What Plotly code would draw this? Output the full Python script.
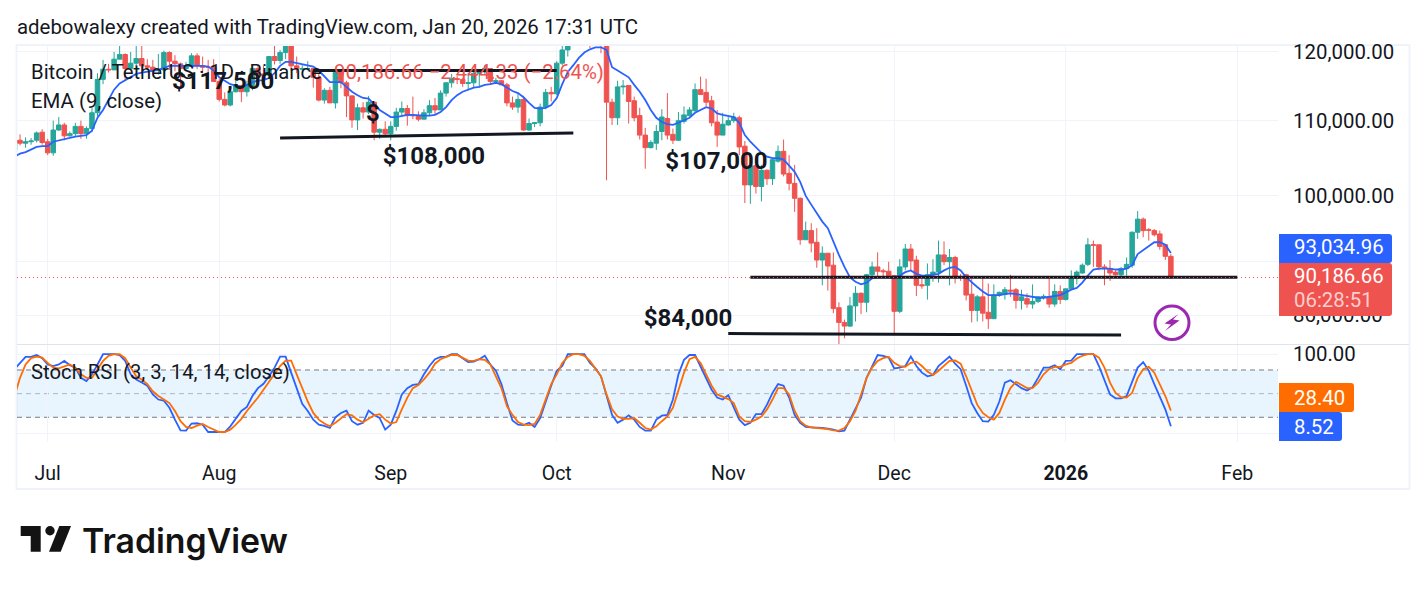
import pandas as pd
import plotly.graph_objects as go

WIDTH, HEIGHT = 1427, 591

# Daily BTC/USDT candles, prices in thousands of USD, one row per month
dates = pd.date_range("2025-06-25", "2026-01-20", freq="D").strftime("%Y-%m-%d").tolist()

opens = [
    106.0,107.3,106.9,107.1,107.3,108.4,
    107.1,105.6,108.7,109.4,107.9,108.2,109.2,108.2,108.9,111.1,115.9,117.4,117.3,118.9,119.6,117.5,118.3,119.0,117.9,117.7,117.2,117.3,119.9,118.6,118.2,117.5,117.8,119.4,117.9,117.7,117.7,
    115.6,113.0,112.2,114.1,115.0,114.1,115.0,117.5,116.7,116.5,119.3,118.7,119.9,123.3,117.9,117.4,117.5,117.5,116.2,112.9,114.3,112.5,116.9,115.4,113.5,110.1,111.8,111.2,112.6,108.4,108.8,
    108.2,109.2,111.2,111.7,110.7,110.7,110.2,111.1,112.1,111.5,113.9,115.4,116.0,115.9,115.3,115.4,116.8,117.0,117.5,115.6,115.7,115.1,112.5,111.9,113.0,108.7,109.6,109.7,111.9,114.0,
    113.8,118.3,120.3,122.2,122.4,123.5,124.7,121.4,123.3,121.7,112.6,110.4,114.8,115.0,112.8,110.7,108.0,106.3,106.9,108.5,110.3,108.1,107.3,109.9,110.7,111.4,114.4,114.0,112.8,109.8,108.0,
    109.4,110.0,110.4,106.5,101.4,103.9,101.2,103.3,102.2,104.5,105.8,102.9,101.6,99.7,94.6,95.7,94.3,92.2,93.0,91.6,86.8,85.2,84.8,87.0,88.4,87.4,90.5,91.4,90.95,90.9,
    90.4,86.4,91.4,93.5,92.2,89.35,89.3,90.5,90.8,92.8,92.0,92.5,90.25,90.5,88.3,86.5,88.0,86.3,85.6,88.2,88.3,88.75,88.8,87.6,87.8,87.2,87.5,88.0,88.0,87.2,88.6,
    87.7,88.9,90.1,90.7,91.7,94.0,94.0,91.4,91.2,90.8,90.5,91.2,91.6,95.5,97.1,95.8,95.7,95.3,94.0,92.63099,
]
highs = [
    108.0,108.1,107.7,107.6,108.5,108.8,
    107.5,110.0,110.5,109.7,108.5,109.7,110.0,109.2,111.8,116.8,118.8,118.2,120.0,123.2,119.8,120.0,120.9,120.9,118.9,118.8,119.7,120.2,120.1,119.5,118.4,118.5,119.8,119.8,119.3,118.8,118.9,
    116.0,114.0,114.8,115.7,115.1,115.7,117.6,117.9,117.9,119.3,122.3,120.3,124.0,124.5,119.3,118.0,118.6,117.6,116.8,114.6,114.8,117.4,117.4,115.7,113.6,112.4,112.6,113.5,112.6,108.9,109.9,
    109.9,111.8,112.7,112.2,113.4,111.3,111.6,112.9,113.2,114.3,115.4,116.7,116.4,116.1,116.9,117.0,117.3,118.0,117.5,116.1,115.8,115.4,113.4,114.0,113.5,110.3,109.8,112.4,114.5,114.8,
    118.6,121.0,123.9,122.8,125.7,126.2,125.1,124.2,123.7,122.5,113.1,115.7,115.8,115.0,113.4,111.8,109.0,107.3,109.4,111.6,113.9,108.9,111.2,112.0,111.9,115.3,116.3,116.0,113.5,111.5,111.1,
    110.5,111.1,110.7,107.2,104.5,104.1,104.0,103.4,104.8,106.6,107.4,105.3,104.0,99.8,96.8,96.6,96.0,93.8,93.0,93.1,87.4,85.5,88.0,89.2,88.5,90.6,92.0,93.1,91.2,92.0,
    90.4,92.3,94.1,94.1,92.7,90.3,91.8,92.3,94.5,94.4,93.5,92.7,90.6,90.6,90.0,88.2,90.3,89.5,89.4,88.6,89.1,90.5,89.0,88.8,88.4,89.4,88.0,88.3,90.3,89.4,89.3,
    88.9,91.0,91.0,91.8,94.8,94.5,94.0,91.7,92.2,91.0,91.4,92.5,95.6,98.1,97.3,96.0,95.9,95.7,94.0,92.9,
]
lows = [
    105.7,106.6,106.3,106.7,107.0,106.7,
    105.3,105.2,108.6,107.3,107.8,107.8,107.5,107.5,108.4,110.6,115.2,116.9,117.3,118.9,115.7,117.4,117.8,116.8,117.3,116.5,116.6,116.1,117.3,117.1,114.7,117.2,117.8,117.4,116.8,115.7,115.5,
    112.7,112.0,112.0,114.0,112.6,113.4,114.3,116.3,116.3,116.5,118.1,118.2,118.9,117.2,116.8,117.2,117.2,114.7,112.7,112.4,112.6,111.7,114.6,110.5,109.0,108.7,110.3,110.9,107.3,107.5,108.0,
    107.3,108.6,110.6,109.3,110.2,109.9,110.2,110.6,110.8,111.5,113.4,114.7,115.2,114.8,114.4,114.7,114.7,116.7,115.1,115.4,115.1,112.0,111.5,111.1,108.6,108.6,109.1,109.2,111.6,112.7,
    113.6,118.0,119.3,121.6,122.0,123.0,120.6,121.0,119.8,102.0,109.4,109.4,113.7,109.6,109.9,107.4,103.5,106.2,106.0,107.3,107.4,106.8,107.2,109.6,110.6,111.2,113.7,112.0,109.2,106.4,108.0,
    109.3,109.7,105.3,99.1,99.0,100.3,99.3,101.4,101.4,104.3,102.5,100.7,98.0,94.0,94.6,93.1,91.3,89.3,88.7,86.2,80.6,83.5,84.7,85.3,86.1,86.3,90.1,90.2,90.2,90.3,
    84.0,86.2,91.0,90.9,88.1,88.9,87.7,89.7,89.6,91.6,89.3,89.5,89.8,87.6,85.2,85.3,85.3,84.5,85.6,88.0,87.7,88.0,86.7,86.6,86.8,86.7,87.3,87.7,86.8,86.9,87.2,
    87.6,88.8,89.4,90.6,91.5,91.4,91.0,89.3,89.8,90.4,90.3,90.4,91.3,94.7,94.9,94.5,95.0,93.4,92.2,90.0,
]
closes = [
    107.3,106.9,107.1,107.2,108.3,107.0,
    105.6,108.7,109.4,107.9,108.2,109.2,108.2,108.9,111.1,115.9,117.4,117.3,118.9,119.6,117.5,118.3,119.0,117.9,117.7,117.2,117.3,119.9,118.6,118.2,117.5,117.8,119.4,117.9,117.7,117.7,115.6,
    113.0,112.2,114.1,115.0,114.1,115.0,117.5,116.7,116.5,119.3,118.7,119.9,123.3,117.9,117.4,117.5,117.5,116.2,112.9,114.3,112.5,116.9,115.4,113.5,110.1,111.8,111.2,112.6,108.4,108.8,108.2,
    109.2,111.2,111.7,110.7,110.7,110.2,111.1,112.1,111.5,113.9,115.4,116.0,115.9,115.3,115.4,116.8,117.0,117.5,115.6,115.7,115.1,112.5,111.9,113.0,108.7,109.6,109.7,111.9,114.0,113.8,
    118.3,120.3,122.2,122.4,123.5,124.7,121.4,123.3,121.7,112.6,110.4,114.8,114.9,112.7,110.4,108.0,106.3,107.0,108.5,110.5,108.0,107.3,110.0,110.8,111.5,114.4,113.7,112.6,109.7,108.0,109.5,
    110.0,110.5,106.4,101.4,103.9,101.2,103.3,102.2,104.7,105.8,102.8,101.6,99.7,94.6,95.7,94.2,92.2,93.0,91.5,86.7,85.2,84.8,87.0,88.4,87.4,90.5,91.4,90.9,90.85,90.4,
    86.4,91.4,93.5,92.1,89.3,89.25,90.5,90.8,92.8,92.0,92.5,90.2,90.2,88.2,86.5,88.0,86.2,85.6,88.2,88.5,88.8,88.65,87.6,88.0,87.2,87.5,88.0,88.05,87.2,88.6,87.7,
    88.9,90.2,90.8,91.6,94.0,93.95,91.4,91.2,90.7,90.5,91.2,91.7,95.5,97.1,95.7,95.75,95.2,93.8,92.63099,90.18666,
]
ema9 = [
    105.1,105.5,105.7,106.0,106.4,106.5,
    106.5,107.1,107.3,107.5,107.7,107.8,107.9,108.0,108.6,110.4,111.5,112.9,114.4,115.3,115.8,116.2,116.7,116.9,117.0,117.2,117.3,117.6,117.9,117.9,117.9,117.9,118.0,118.0,117.9,117.8,117.2,
    116.2,115.7,115.2,115.0,114.8,115.1,115.5,115.7,115.8,116.1,116.8,117.9,118.5,118.5,118.3,118.2,118.0,117.8,117.2,116.4,115.5,115.5,115.5,114.8,114.1,113.6,113.2,113.1,112.3,111.5,111.0,
    110.5,110.5,110.7,110.8,110.8,110.7,110.7,110.7,110.8,111.2,111.9,112.9,113.6,114.1,114.4,114.7,114.8,115.1,115.2,115.4,115.2,114.7,114.2,113.9,113.3,112.5,111.8,111.7,111.8,112.2,
    113.2,115.2,117.0,118.0,119.1,119.9,120.4,120.7,120.7,120.3,117.7,117.2,116.7,116.2,115.1,114.1,112.9,111.5,110.4,109.8,109.5,109.4,109.7,110.0,110.4,111.1,111.5,111.9,111.7,111.0,110.8,
    110.6,110.5,109.7,108.0,107.1,106.3,105.6,105.1,104.9,104.9,104.7,103.9,103.1,101.8,100.0,98.9,97.8,96.8,96.0,94.3,92.8,91.4,90.2,89.7,89.4,89.6,90.1,90.2,90.2,90.2,
    90.1,90.4,90.8,91.0,90.6,90.4,90.4,90.5,90.6,91.0,91.3,91.4,91.0,90.2,89.6,89.1,88.6,88.2,88.2,88.2,88.3,88.4,88.3,88.2,88.1,88.0,87.9,87.9,88.0,88.1,88.2,
    88.5,88.8,89.0,89.6,90.4,91.1,91.2,91.2,91.2,91.1,91.1,91.2,91.6,92.9,93.4,93.9,94.3,94.3,94.0,93.03496,
]

# Stochastic RSI oscillator, %K and %D
stoch_k = [
    81,89,96.6,96.6,99,95,
    87,85,87,91.5,86,83,70,66,74.5,87,100,100,100,99,91.5,74.5,68,64,60,49,42.5,41,32,17,3.4,3,12,12.4,10.6,1.3,1.3,
    1.3,1.3,8.5,18,28,33,47,57,62.5,72,83,97,97,76.6,57,37,28,17,10.6,9,6.4,20,25.5,28.5,15,10.6,13,28.5,23,19,4.3,
    10.6,28,49,57,61,62,74.5,85,93.6,96.6,96.6,100,100,95,90,90.6,93.6,98,87,79,62,38,16,10.6,10,13,7.7,19,40,60,
    79,85,100,100,100,100,89,82,72,49,23,13,17,22.5,17,7.7,3,3,17,22,23,42.5,74.5,92.8,99,99,85,70,55,45,42.5,
    48,32,17,10,13,24,24,36,51,62,60,45,23,13,7.7,7.2,7.2,6.4,5.5,4.3,2,3,17,32,45,70,85,99,98,95.7,
    82,83,85,97,85,76.6,72,73.6,85,91.5,97,88,81,60,38,25.5,15,14.5,23,40,64,67,62.5,57,54,58,70,83,83,86,81,
    91.5,92,100,100,100,100,85,66,49,44,44,47,64,83,90,79,62,47,30,8.52,
]
stoch_d = [
    47,70,87,95,97,95.7,
    89,83,82,85,87,83,74.5,70,70,81,91.5,98,100,100,95,83,72,68,62,53,47,42.5,38,28,15,7.7,6.4,9.4,11.5,7.7,4.3,
    1.3,1.3,4.3,10.6,18,28,36,45,55,65,74.5,85,92,92,74.5,57,40,25.5,17,12,8.5,13,19,24,22.5,17,13.6,18,22.5,24,17,
    12,14,30,45,57,61,68,76.6,88,93.6,96.6,99,99,95,92,91.5,93.6,92.8,87,72,57,34,23,14,10.6,10,11.5,23,42.5,62,
    74.5,89,96.6,100,100,98,91.5,82,72,49,30,21,18,18,19,13,6.4,4.3,8.5,15,21,32,53,76.6,93.6,96.6,89,74.5,60,49,46,
    43,38,21,15,14,17,21,30,42.5,57,57,49,28,15,9.4,7.2,6.4,6.4,5,3.4,3,6.4,15,28,49,70,83,91.5,95,96.6,
    89,85,84,89,90.6,85,78,73.6,79,85,91.5,92,88,72,55,36,25.5,20,17,25.5,42.5,57,65,61,57,57,64,74.5,81,84,84,
    87,89,94.5,98,100,100,95.7,83,64,51,45.5,45,51,70,81,84,76.6,62,47,28.40,
]
assert all(len(s) == len(dates) for s in (opens, highs, lows, closes, ema9, stoch_k, stoch_d))

# Hand-drawn support and resistance lines: start/end dates and price levels
trend_lines = [
    (["2025-08-18", "2025-10-01"], [117.2, 117.2]),
    (["2025-08-12", "2025-10-04"], [107.6, 108.3]),
    (["2025-11-05", "2026-02-01"], [90.2, 90.2]),
    (["2025-11-01", "2026-01-11"], [84.0, 83.85]),
]
note_texts = ["$117,500", "$108,000", "$107,000", "$84,000", "$"]
note_dates = ["2025-08-01 17:00", "2025-09-08 19:00", "2025-10-29 21:00", "2025-10-24 17:00", "2025-08-28 19:00"]
note_prices = [115.3, 104.9, 104.3, 85.5, 110.8]

month_ticks = ["2025-07-01", "2025-08-01", "2025-09-01", "2025-10-01", "2025-11-01", "2025-12-01", "2026-01-01", "2026-02-01"]
month_labels = ["Jul", "Aug", "Sep", "Oct", "Nov", "Dec", "<b>2026</b>", "Feb"]
price_ticks = [120000, 110000, 100000, 92000, 86000]
price_labels = ["120,000.00", "110,000.00", "100,000.00", "92,000.00", "86,000.00"]

X_RANGE = ["2025-06-25 10:48", "2026-02-08 08:40"]
PRICE_RANGE_LOG = [4.91856, 5.08243]
STOCH_RANGE = [-11, 111.7]

INK = "#131722"
GRID = "#f0f3fa"
UP = "#26a69a"
DOWN = "#ef5350"
BLUE = "#2962ff"
ORANGE = "#ff6d00"
PURPLE = "#9c27b0"
FONT = "Roboto"


def fx(x):
    return x / WIDTH


def fy(y):
    return 1 - y / HEIGHT


def thousands(values):
    return [v * 1000 for v in values]


fig = go.Figure()

fig.add_trace(go.Candlestick(
    x=dates, open=thousands(opens), high=thousands(highs), low=thousands(lows), close=thousands(closes),
    increasing=dict(line=dict(color=UP, width=1), fillcolor=UP),
    decreasing=dict(line=dict(color=DOWN, width=1), fillcolor=DOWN),
    whiskerwidth=0, xaxis="x", yaxis="y", showlegend=False,
))
fig.add_trace(go.Scatter(x=dates, y=thousands(ema9), mode="lines", line=dict(color=BLUE, width=1.8),
                         xaxis="x", yaxis="y", showlegend=False))
for line_dates, line_prices in trend_lines:
    fig.add_trace(go.Scatter(x=line_dates, y=thousands(line_prices), mode="lines",
                             line=dict(color=INK, width=3), xaxis="x", yaxis="y", showlegend=False))
fig.add_trace(go.Scatter(x=[X_RANGE[0], X_RANGE[1]], y=[closes[-1] * 1000] * 2, mode="lines",
                         line=dict(color=DOWN, width=1, dash="1px 3px"), xaxis="x", yaxis="y", showlegend=False))
fig.add_trace(go.Scatter(x=note_dates, y=thousands(note_prices), mode="text", text=note_texts,
                         textposition="middle center",
                         textfont=dict(family=FONT, size=24, color=INK, weight=700),
                         xaxis="x", yaxis="y", showlegend=False))
fig.add_trace(go.Scatter(x=dates, y=stoch_k, mode="lines", line=dict(color=BLUE, width=1.8),
                         xaxis="x2", yaxis="y2", showlegend=False))
fig.add_trace(go.Scatter(x=dates, y=stoch_d, mode="lines", line=dict(color=ORANGE, width=1.8),
                         xaxis="x2", yaxis="y2", showlegend=False))


def rounded_badge(x0, y0, x1, y1, color, r=3):
    path = (f"M {fx(x0)},{fy(y0)} L {fx(x1 - r)},{fy(y0)} Q {fx(x1)},{fy(y0)} {fx(x1)},{fy(y0 + r)} "
            f"L {fx(x1)},{fy(y1 - r)} Q {fx(x1)},{fy(y1)} {fx(x1 - r)},{fy(y1)} L {fx(x0)},{fy(y1)} Z")
    return dict(type="path", xref="paper", yref="paper", path=path, fillcolor=color,
                line=dict(width=0), layer="above")


def polygon(points, color):
    path = "M " + " L ".join(f"{fx(x)},{fy(y)}" for x, y in points) + " Z"
    return dict(type="path", xref="paper", yref="paper", path=path, fillcolor=color,
                line=dict(width=0), layer="above")


shapes = [
    # chart frame and pane separator
    dict(type="rect", xref="paper", yref="paper", x0=fx(16.5), x1=fx(1409.5), y0=fy(45), y1=fy(489),
         line=dict(color=GRID, width=2), layer="below"),
    dict(type="line", xref="paper", yref="paper", x0=fx(17), x1=fx(1409), y0=fy(344.5), y1=fy(344.5),
         line=dict(color="#e0e3eb", width=1), layer="above"),
    # oscillator band and its levels
    dict(type="rect", xref="x2 domain", yref="y2", x0=0, x1=1, y0=20, y1=80,
         fillcolor="rgba(33,150,243,0.1)", line=dict(width=0), layer="below"),
    dict(type="line", xref="x2 domain", yref="y2", x0=0, x1=1, y0=80, y1=80,
         line=dict(color="#787b86", width=1, dash="5px 4px"), layer="below"),
    dict(type="line", xref="x2 domain", yref="y2", x0=0, x1=1, y0=20, y1=20,
         line=dict(color="#787b86", width=1, dash="5px 4px"), layer="below"),
    dict(type="line", xref="x2 domain", yref="y2", x0=0, x1=1, y0=50, y1=50,
         line=dict(color="rgba(120,123,134,0.5)", width=1, dash="5px 4px"), layer="below"),
    # last-value badges on the price scale
    rounded_badge(1279, 234, 1392, 263, BLUE),
    rounded_badge(1279, 263, 1392, 316, DOWN),
    rounded_badge(1279, 383, 1354, 412, ORANGE),
    rounded_badge(1279, 412, 1342, 441, BLUE),
    # lightning badge
    dict(type="circle", xref="paper", yref="paper", x0=fx(1155), x1=fx(1189), y0=fy(306), y1=fy(339.5),
         line=dict(color=PURPLE, width=3), fillcolor="rgba(255,255,255,0)", layer="above"),
    polygon([(1178.5, 314), (1164.5, 323.5), (1171, 324.5), (1165, 331), (1179.5, 320.5), (1173, 319.5)], PURPLE),
    # brand mark
    polygon([(20.7, 526), (40.7, 526), (40.7, 551.7), (30.7, 551.7), (30.7, 536), (20.7, 536)], "#131313"),
    polygon([(71, 526), (60.7, 551.7), (49, 551.7), (59.3, 526)], "#131313"),
    dict(type="circle", xref="paper", yref="paper", x0=fx(45.3), x1=fx(54.7), y0=fy(526), y1=fy(535.4),
         fillcolor="#131313", line=dict(width=0), layer="above"),
]


def label(x, y, text, size=20.4, color=INK, anchor="left", weight=None, family=FONT):
    return dict(xref="paper", yref="paper", x=fx(x), y=fy(y), text=text, showarrow=False,
                xanchor=anchor, yanchor="middle", align="left",
                font=dict(family=family, size=size, color=color, weight=weight), borderpad=0)


last_ema = f"{ema9[-1] * 1000:,.2f}"
last_close = f"{closes[-1] * 1000:,.2f}"
change = (closes[-1] - opens[-1]) * 1000
change_pct = change / (opens[-1] * 1000) * 100

annotations = [
    label(16, 27, "adebowalexy created with TradingView.com, Jan 20, 2026 17:31 UTC"),
    label(30, 72, "Bitcoin / TetherUS · 1D · Binance", size=20.3),
    label(333, 72, f"{last_close} \u2212{abs(change):,.2f} (\u2212{abs(change_pct):.2f}%)", color=DOWN),
    label(30, 101, "EMA (9, close)"),
    label(30, 372, "Stoch RSI (3, 3, 14, 14, close)", size=20.3),
    label(1293, 247, last_ema, color="#ffffff"),
    label(1293, 276, last_close, color="#ffffff"),
    label(1293, 299.5, "06:28:51", color="#fbcfce"),
    label(1293, 397.5, f"{stoch_d[-1]:.2f}", color="#ffffff"),
    label(1293, 427, f"{stoch_k[-1]:.2f}", color="#ffffff"),
    label(81, 540, "TradingView", size=33.8, color="#131313", weight=600, family="Inter"),
]

fig.update_layout(
    template=None,
    width=WIDTH, height=HEIGHT, autosize=False,
    margin=dict(l=0, r=0, t=0, b=0),
    paper_bgcolor="#ffffff", plot_bgcolor="rgba(0,0,0,0)",
    font=dict(family=FONT, color=INK, size=20),
    showlegend=False, boxgap=0.1, boxgroupgap=0.1,
    shapes=shapes, annotations=annotations,
    xaxis=dict(type="date", domain=[fx(17), fx(1278)], range=X_RANGE, anchor="y", automargin=False,
               rangeslider=dict(visible=False), tickmode="array", tickvals=month_ticks,
               showticklabels=False, showgrid=True, gridcolor=GRID, gridwidth=1, zeroline=False, ticks="",
               showline=False),
    yaxis=dict(type="log", domain=[fy(344), fy(46)], range=PRICE_RANGE_LOG, anchor="x", side="right",
               automargin=False, tickmode="array", tickvals=price_ticks, ticktext=price_labels,
               showgrid=True, gridcolor=GRID, gridwidth=1, zeroline=False, showline=False,
               ticks="outside", ticklen=10, tickcolor="rgba(0,0,0,0)",
               tickfont=dict(family=FONT, size=20.4, color=INK)),
    xaxis2=dict(type="date", domain=[fx(17), fx(1278)], range=X_RANGE, anchor="y2", automargin=False,
                tickmode="array", tickvals=month_ticks, ticktext=month_labels,
                showgrid=True, gridcolor=GRID, gridwidth=1, zeroline=False, showline=False,
                ticks="outside", ticklen=14, tickcolor="rgba(0,0,0,0)",
                tickfont=dict(family=FONT, size=19.5, color=INK)),
    yaxis2=dict(domain=[fy(441.7), fy(345)], range=STOCH_RANGE, anchor="x2", side="right",
                automargin=False, tickmode="array", tickvals=[100, 0], ticktext=["100.00", ""],
                showgrid=True, gridcolor=GRID, gridwidth=1, zeroline=False, showline=False,
                ticks="outside", ticklen=10, tickcolor="rgba(0,0,0,0)",
                tickfont=dict(family=FONT, size=20.4, color=INK)),
)

fig.write_html("out.html")
